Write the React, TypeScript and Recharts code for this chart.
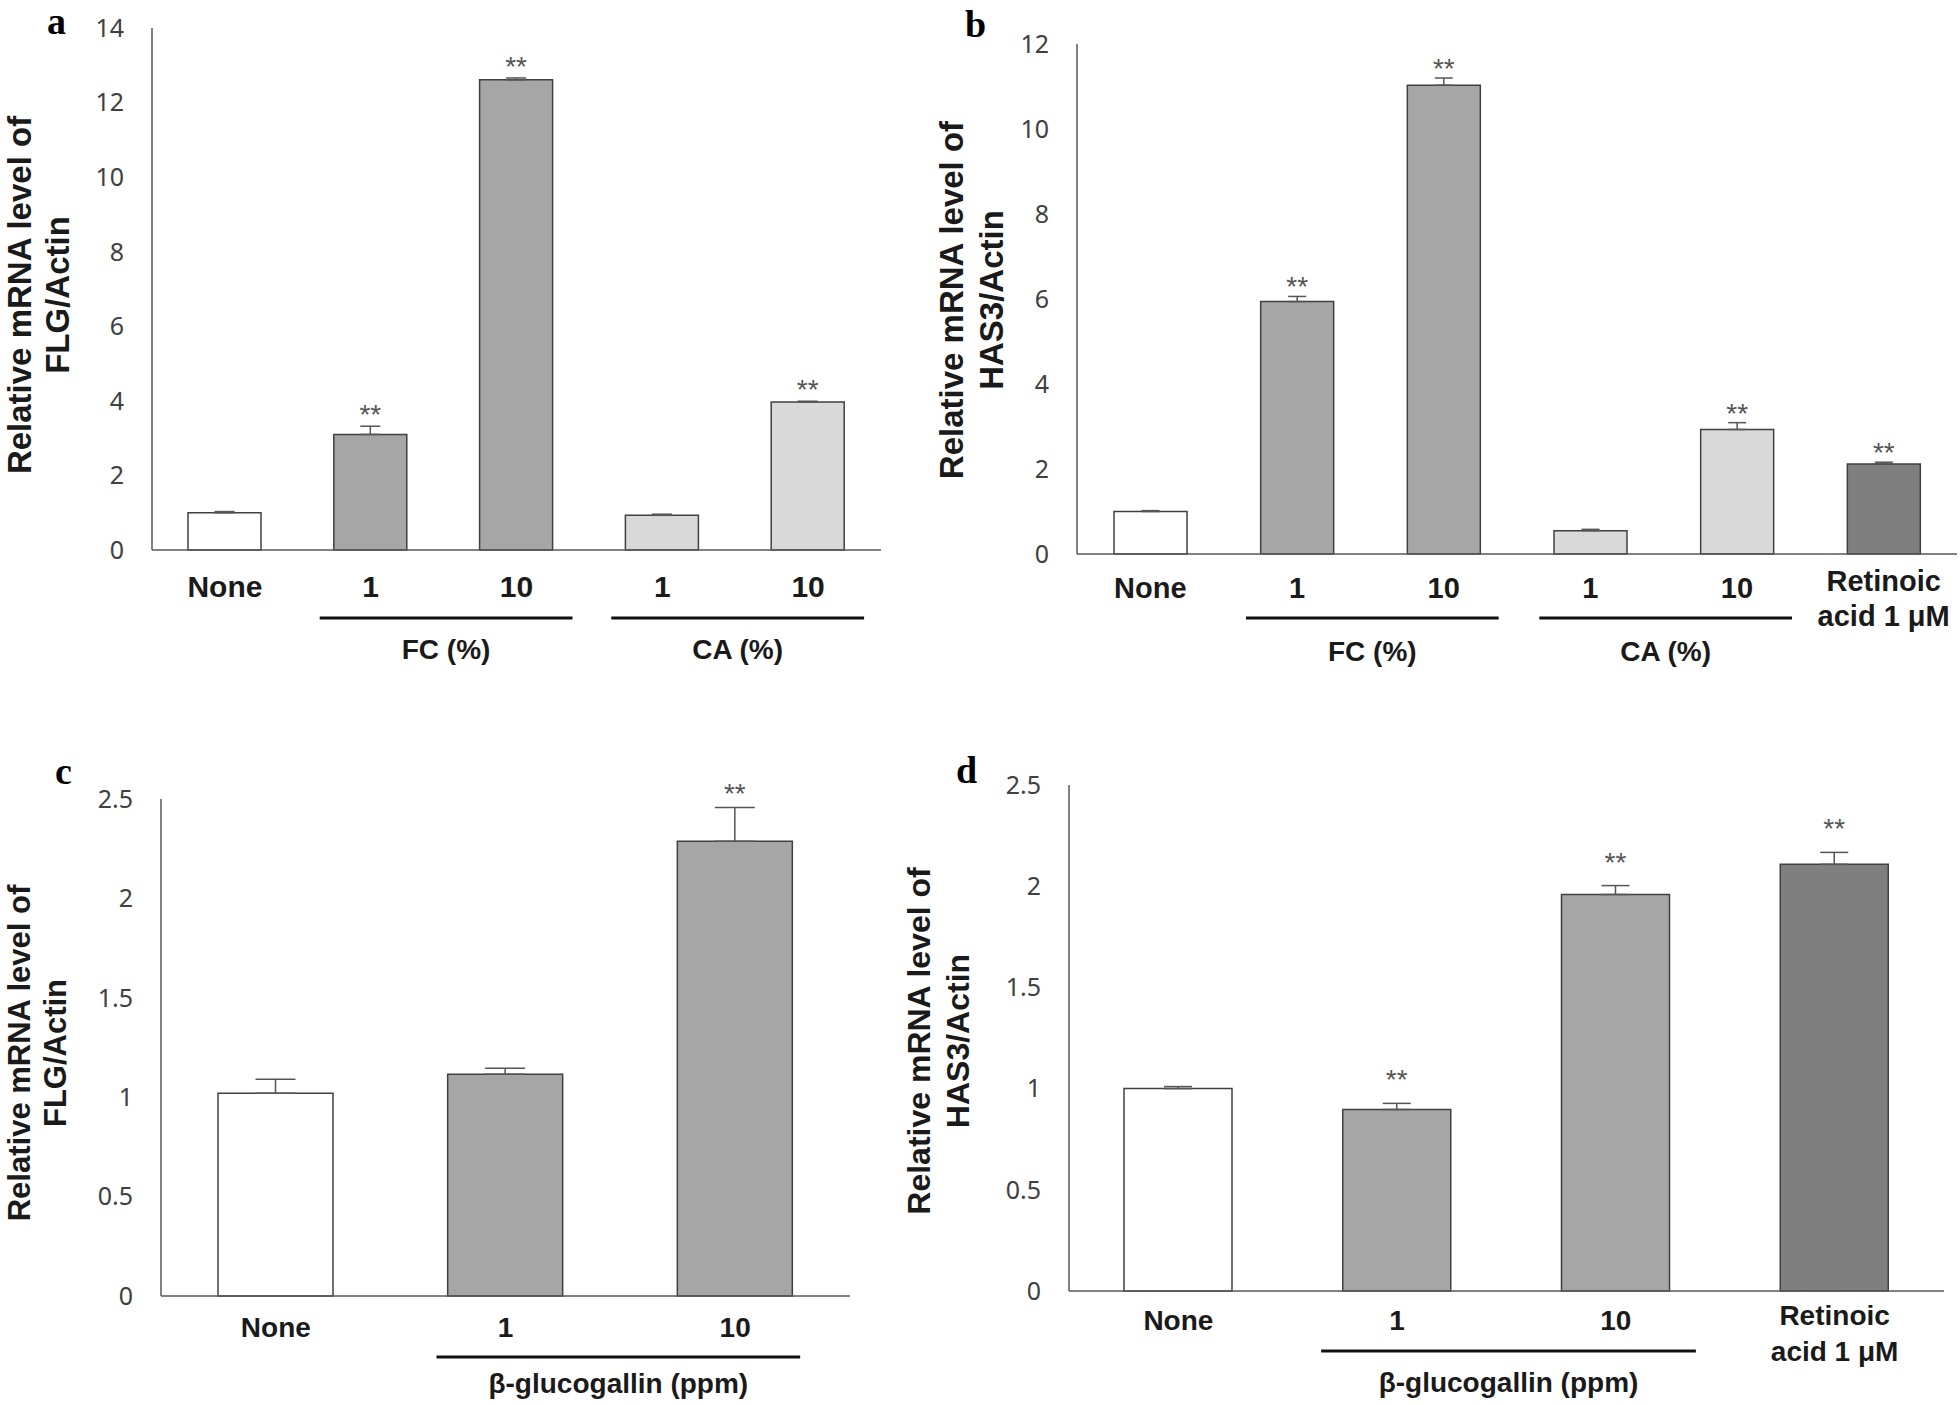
import React from 'react';
import { BarChart, Bar, XAxis, YAxis, Cell, ErrorBar, LabelList } from 'recharts';

const TICK_FONT = "'Noto Sans', 'DejaVu Sans', sans-serif";
const BOLD_FONT = "'Liberation Sans', Arial, sans-serif";
const SERIF_FONT = "'Liberation Serif', 'Times New Roman', serif";

const AXIS_COLOR = '#595959';
const BAR_STROKE = '#404040';
const KIND_FILL: Record<string, string> = {
  none: '#ffffff',
  fc: '#a6a6a6',
  ca: '#d9d9d9',
  ra: '#7f7f7f',
};

// a: FLG, FC / CA extracts
const catsA = ['None', '1', '10', '1', '10'];
const kindsA = ['none', 'fc', 'fc', 'ca', 'ca'];
const valsA = [1.0, 3.1, 12.61, 0.93, 3.97];
const errA = [0.03, 0.22, 0.05, 0.03, 0.02];
const sigA = [false, true, true, false, true];
const ticksA = [0, 2, 4, 6, 8, 10, 12, 14];
const groupsA = [
  { label: 'FC (%)', from: 1, to: 2 },
  { label: 'CA (%)', from: 3, to: 4 },
];

// b: HAS3, FC / CA extracts + retinoic acid
const catsB = ['None', '1', '10', '1', '10', 'Retinoic\nacid 1 μM'];
const kindsB = ['none', 'fc', 'fc', 'ca', 'ca', 'ra'];
const valsB = [1.0, 5.94, 11.03, 0.55, 2.93, 2.12];
const errB = [0.02, 0.12, 0.17, 0.03, 0.16, 0.04];
const sigB = [false, true, true, false, true, true];
const ticksB = [0, 2, 4, 6, 8, 10, 12];
const groupsB = [
  { label: 'FC (%)', from: 1, to: 2 },
  { label: 'CA (%)', from: 3, to: 4 },
];

// c: FLG, beta-glucogallin
const catsC = ['None', '1', '10'];
const kindsC = ['none', 'fc', 'fc'];
const valsC = [1.02, 1.116, 2.287];
const errC = [0.07, 0.03, 0.17];
const sigC = [false, false, true];
const ticksC = [0, 0.5, 1, 1.5, 2, 2.5];
const groupsC = [{ label: 'β-glucogallin (ppm)', from: 1, to: 2 }];

// d: HAS3, beta-glucogallin + retinoic acid
const catsD = ['None', '1', '10', 'Retinoic\nacid 1 μM'];
const kindsD = ['none', 'fc', 'fc', 'ra'];
const valsD = [1.0, 0.897, 1.959, 2.108];
const errD = [0.01, 0.03, 0.044, 0.059];
const sigD = [false, true, true, true];
const ticksD = [0, 0.5, 1, 1.5, 2, 2.5];
const groupsD = [{ label: 'β-glucogallin (ppm)', from: 1, to: 2 }];

type Group = { label: string; from: number; to: number };

interface PanelProps {
  left: number;
  top: number;
  width: number;
  height: number;
  marginTop: number;
  marginRight: number;
  yWidth: number;
  xHeight: number;
  cats: string[];
  kinds: string[];
  vals: number[];
  errs: number[];
  sig: boolean[];
  ticks: number[];
  groups: Group[];
  barSize: number;
  capWidth: number;
  labelSize: number;
  labelDy: number;
  twoLineDy: [number, number];
  lineDy: number;
  groupDy: number;
  extL: number;
  extR: number;
  starGap: number;
}

function Panel(p: PanelProps) {
  const data = p.cats.map((c, i) => ({
    key: 'k' + i,
    label: c,
    value: p.vals[i],
    err: [0, p.errs[i]],
  }));
  const yMax = p.ticks[p.ticks.length - 1];
  const plotW = p.width - p.yWidth - p.marginRight;
  const plotH = p.height - p.marginTop - p.xHeight;
  const band = plotW / p.cats.length;
  const baseY = p.marginTop + plotH;
  const pxPerUnit = plotH / yMax;

  const renderTick = (props: any) => {
    const x = props.x as number;
    const idx = (props.index ?? props.payload?.index) as number;
    const lines = (p.cats[idx] ?? '').split('\n');
    const group = p.groups.find((g) => g.from === idx);
    return (
      <g>
        {lines.length === 1 ? (
          <text
            x={x}
            y={baseY + p.labelDy}
            textAnchor="middle"
            fontFamily={BOLD_FONT}
            fontWeight="bold"
            fontSize={p.labelSize}
            fill="#1a1a1a"
          >
            {lines[0]}
          </text>
        ) : (
          lines.map((ln, k) => (
            <text
              key={k}
              x={x}
              y={baseY + p.twoLineDy[k]}
              textAnchor="middle"
              fontFamily={BOLD_FONT}
              fontWeight="bold"
              fontSize={p.labelSize}
              fill="#1a1a1a"
            >
              {ln}
            </text>
          ))
        )}
        {group && (
          <g>
            <line
              x1={x - p.extL}
              x2={x + (group.to - group.from) * band + p.extR}
              y1={baseY + p.lineDy}
              y2={baseY + p.lineDy}
              stroke="#111"
              strokeWidth={3}
            />
            <text
              x={x + ((group.to - group.from) * band + p.extR - p.extL) / 2}
              y={baseY + p.groupDy}
              textAnchor="middle"
              fontFamily={BOLD_FONT}
              fontWeight="bold"
              fontSize={28}
              fill="#1a1a1a"
            >
              {group.label}
            </text>
          </g>
        )}
      </g>
    );
  };

  // significance stars sit a fixed gap above the top of the error bar
  const renderStar = (props: any) => {
    const idx = props.index as number;
    if (!p.sig[idx]) return null;
    const x = (props.x as number) + (props.width as number) / 2;
    const errTop = (props.y as number) - p.errs[idx] * pxPerUnit;
    return (
      <text
        x={x}
        y={errTop - p.starGap + 16}
        textAnchor="middle"
        fontFamily={BOLD_FONT}
        fontSize={28}
        fill="#555"
      >
        **
      </text>
    );
  };

  return (
    <div style={{ position: 'absolute', left: p.left, top: p.top }}>
      <BarChart
        width={p.width}
        height={p.height}
        data={data}
        margin={{ top: p.marginTop, right: p.marginRight, left: 0, bottom: 0 }}
      >
        <XAxis
          dataKey="key"
          height={p.xHeight}
          interval={0}
          axisLine={{ stroke: AXIS_COLOR, strokeWidth: 1.5 }}
          tickLine={false}
          tickSize={0}
          tickMargin={0}
          tick={renderTick}
        />
        <YAxis
          type="number"
          width={p.yWidth}
          domain={[0, yMax]}
          ticks={p.ticks}
          interval={0}
          axisLine={{ stroke: AXIS_COLOR, strokeWidth: 1.5 }}
          tickLine={false}
          tickSize={0}
          tickMargin={28}
          tick={{ fontSize: 25, fill: '#404040', fontFamily: TICK_FONT }}
        />
        <Bar
          dataKey="value"
          barSize={p.barSize}
          stroke={BAR_STROKE}
          strokeWidth={1.5}
          isAnimationActive={false}
        >
          {data.map((d, i) => (
            <Cell key={d.key} fill={KIND_FILL[p.kinds[i]]} />
          ))}
          <ErrorBar
            dataKey="err"
            direction="y"
            width={p.capWidth}
            stroke="#555"
            strokeWidth={1.5}
            isAnimationActive={false}
          />
          <LabelList dataKey="value" content={renderStar} />
        </Bar>
      </BarChart>
    </div>
  );
}

function YTitle({ x1, x2, y, size, gene }: { x1: number; x2: number; y: number; size: number; gene: string }) {
  return (
    <g fontFamily={BOLD_FONT} fontWeight="bold" fontSize={size} fill="#1a1a1a" textAnchor="middle">
      <text x={x1} y={y} transform={`rotate(-90 ${x1} ${y})`}>
        Relative mRNA level of
      </text>
      <text x={x2} y={y} transform={`rotate(-90 ${x2} ${y})`}>
        {gene}
      </text>
    </g>
  );
}

export default function App() {
  return (
    <div
      style={{
        position: 'absolute',
        left: 0,
        top: 0,
        width: 1960,
        height: 1405,
        background: '#fff',
        overflow: 'hidden',
      }}
    >
      <Panel
        left={0}
        top={0}
        width={900}
        height={700}
        marginTop={28}
        marginRight={19}
        yWidth={152}
        xHeight={150}
        cats={catsA}
        kinds={kindsA}
        vals={valsA}
        errs={errA}
        sig={sigA}
        ticks={ticksA}
        groups={groupsA}
        barSize={73}
        capWidth={10}
        labelSize={30}
        labelDy={47}
        twoLineDy={[37, 72]}
        lineDy={68}
        groupDy={109}
        extL={51}
        extR={56}
        starGap={18}
      />
      <Panel
        left={900}
        top={0}
        width={1060}
        height={700}
        marginTop={44}
        marginRight={3}
        yWidth={177}
        xHeight={146}
        cats={catsB}
        kinds={kindsB}
        vals={valsB}
        errs={errB}
        sig={sigB}
        ticks={ticksB}
        groups={groupsB}
        barSize={73}
        capWidth={9}
        labelSize={29}
        labelDy={44}
        twoLineDy={[37, 72]}
        lineDy={64}
        groupDy={107}
        extL={51}
        extR={55}
        starGap={16}
      />
      <Panel
        left={0}
        top={700}
        width={900}
        height={705}
        marginTop={99}
        marginRight={50}
        yWidth={161}
        xHeight={109}
        cats={catsC}
        kinds={kindsC}
        vals={valsC}
        errs={errC}
        sig={sigC}
        ticks={ticksC}
        groups={groupsC}
        barSize={115}
        capWidth={20}
        labelSize={28}
        labelDy={41}
        twoLineDy={[33, 70]}
        lineDy={61}
        groupDy={97}
        extL={69}
        extR={65}
        starGap={21}
      />
      <Panel
        left={900}
        top={700}
        width={1060}
        height={705}
        marginTop={85}
        marginRight={16}
        yWidth={169}
        xHeight={114}
        cats={catsD}
        kinds={kindsD}
        vals={valsD}
        errs={errD}
        sig={sigD}
        ticks={ticksD}
        groups={groupsD}
        barSize={108}
        capWidth={14}
        labelSize={28}
        labelDy={39}
        twoLineDy={[34, 70]}
        lineDy={60}
        groupDy={101}
        extL={76}
        extR={80}
        starGap={30}
      />
      <svg
        width={1960}
        height={1405}
        style={{ position: 'absolute', left: 0, top: 0, pointerEvents: 'none' }}
      >
        <g fontFamily={SERIF_FONT} fontWeight="bold" fontSize={38} fill="#000">
          <text x={47} y={34}>a</text>
          <text x={965} y={37}>b</text>
          <text x={55} y={784}>c</text>
          <text x={956} y={783}>d</text>
        </g>
        <YTitle x1={31} x2={69} y={295} size={33} gene="FLG/Actin" />
        <YTitle x1={963} x2={1003} y={300} size={33} gene="HAS3/Actin" />
        <YTitle x1={30} x2={66} y={1053} size={31} gene="FLG/Actin" />
        <YTitle x1={930} x2={969} y={1041} size={32} gene="HAS3/Actin" />
      </svg>
    </div>
  );
}
